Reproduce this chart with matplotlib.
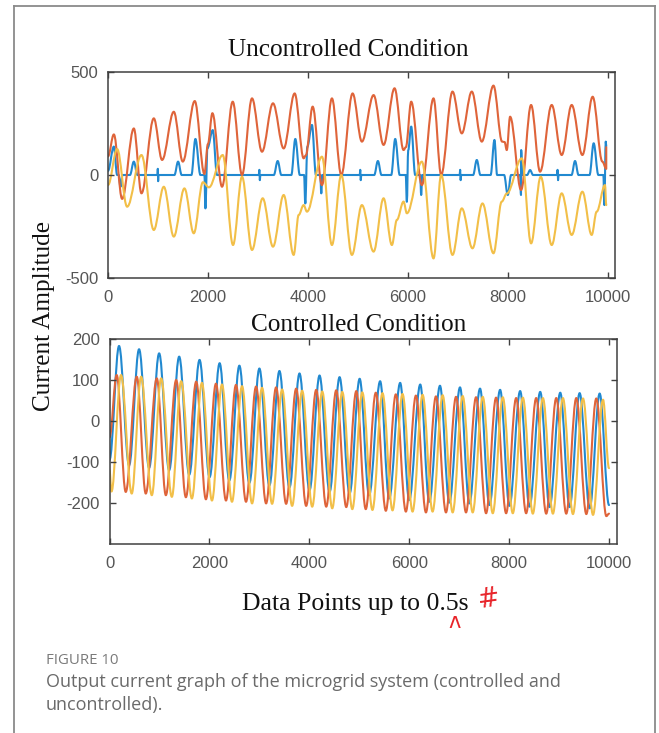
import matplotlib
matplotlib.use("Agg")
import matplotlib.pyplot as plt
from matplotlib.path import Path
from matplotlib.patches import PathPatch
from matplotlib.lines import Line2D

# ---------------- data ----------------
# Uncontrolled condition: turning points (x = data point index, y = current)
unc_blue_x = [0, 117, 183, 215, 250, 290, 440, 517, 590, 990, 997, 1004, 1010,
              1330, 1403, 1475, 1670, 1750, 1850, 1930, 1950, 1990, 2097, 2183,
              3020, 3030, 3040, 3050, 3320, 3397, 3470, 3670, 3750, 3840, 3925,
              3950, 3990, 4083, 4163, 4250, 4270, 4290, 5040, 5050, 5060, 5070,
              5330, 5403, 5475, 5670, 5750, 5840, 5960, 5983, 6010, 6070, 6150,
              6250, 6270, 6290, 7040, 7050, 7060, 7070, 7310, 7383, 7455, 7660,
              7737, 7790, 7930, 8003, 8070, 8250, 8268, 8272, 8290, 8390, 8450,
              8510, 8990, 9000, 9010, 9020, 9280, 9350, 9420, 9640, 9723, 9817,
              9917, 9937, 9965, 9975]
unc_blue_y = [20, 138, 0, 0, -57, 0, 0, 65, 0, 0, 30, -30, 0,
              0, 65, 0, 0, 175, 0, 0, -162, 130, 218, 0,
              0, 25, -25, 0, 0, 68, 0, 0, 175, 0, 0,
              -138, 137, 243, 0, 0, -89, 0, 0, 25, -25, 0,
              0, 68, 0, 0, 175, 0, 0, -130, 120, 235, 0,
              0, -97, 0, 0, 25, -25, 0, 0, 73, 0, 0,
              170, 0, 0, -97, 0, 0, -97, 121, 0, 0, 24,
              0, 0, 25, -25, 0, 0, 68, 0, 0, 154, 0,
              0, -146, 162, 140]

unc_orange_x = [0, 117, 283, 517, 670, 917, 1083, 1317, 1497, 1737, 1930, 2000,
                2090, 2283, 2497, 2683, 2883, 3083, 3303, 3517, 3737, 3917, 3960,
                4097, 4283, 4483, 4670, 4897, 5083, 5317, 5517, 5737, 5917, 5963,
                6070, 6283, 6517, 6670, 6897, 7083, 7283, 7483, 7717, 7890, 7940,
                7983, 8050, 8270, 8470, 8650, 8883, 9083, 9283, 9497, 9703, 9897,
                9975, 9975]
unc_orange_y = [90, 197, -116, 226, -89, 275, 73, 307, 65, 359, 5, 150,
                300, -57, 356, 0, 372, 113, 348, 129, 396, 81, 95,
                332, -49, 372, 0, 396, 162, 388, 146, 421, 121, 135,
                356, -49, 372, 0, 405, 202, 405, 162, 434, 162, 160,
                121, 283, -73, 340, 16, 340, 97, 340, 97, 380, 65,
                30, 135]

unc_yellow_x = [0, 183, 383, 670, 917, 1117, 1317, 1530, 1717, 1900, 2020, 2297,
                2503, 2683, 2883, 3097, 3303, 3517, 3717, 3817, 3917, 3983, 4283,
                4483, 4670, 4883, 5083, 5317, 5517, 5683, 5783, 5917, 5983, 6283,
                6517, 6670, 6897, 7083, 7297, 7497, 7717, 7883, 7983, 8283, 8470,
                8663, 8883, 9083, 9283, 9497, 9683, 9783, 9950, 9975]
unc_yellow_y = [-49, 126, -154, 97, -267, -57, -299, -65, -283, -35, -60, 97,
                -340, -8, -364, -113, -348, -97, -388, -194, -146, -178, 89,
                -340, 0, -388, -146, -372, -113, -340, -218, -129, -186, 65,
                -405, 0, -388, -162, -356, -138, -380, -129, -90, 81, -332,
                -8, -340, -89, -291, -81, -291, -178, -49, -146]

# Controlled condition: start, alternating peaks / troughs, end
ctl_blue_x = [0, 191, 392, 592, 793, 994, 1194, 1395, 1596, 1803, 2004, 2205,
              2399, 2600, 2800, 3001, 3201, 3402, 3603, 3804, 4004, 4205, 4406,
              4606, 4807, 5008, 5197, 5418, 5599, 5819, 6000, 6221, 6401, 6616,
              6803, 7017, 7204, 7418, 7606, 7820, 8007, 8221, 8408, 8623, 8810,
              9024, 9211, 9412, 9613, 9813, 10000]
ctl_blue_y = [-95, 183, -108, 175, -114, 165, -120, 157, -131, 149, -137, 141,
              -145, 135, -151, 128, -157, 122, -162, 116, -169, 111, -173,
              107, -177, 103, -181, 97, -189, 93, -193, 89, -197, 86,
              -199, 82, -201, 79, -205, 76, -207, 73, -209, 71, -210,
              69, -210, 68, -213, 67, -205]

ctl_orange_x = [0, 144, 325, 546, 726, 947, 1128, 1335, 1529, 1736, 1930, 2131,
                2332, 2532, 2733, 2934, 3135, 3335, 3536, 3737, 3937, 4138, 4339,
                4539, 4740, 4941, 5130, 5331, 5532, 5732, 5933, 6134, 6335, 6535,
                6736, 6937, 7137, 7338, 7539, 7739, 7940, 8141, 8341, 8542, 8743,
                8944, 9144, 9345, 9546, 9746, 9947, 10000]
ctl_orange_y = [-40, 112, -173, 108, -177, 104, -181, 100, -186, 96, -191, 91,
                -194, 88, -197, 84, -201, 82, -202, 79, -207, 76, -209,
                75, -210, 73, -215, 69, -219, 65, -221, 62, -223, 60,
                -223, 59, -223, 58, -225, 57, -225, 56, -225, 56, -226,
                56, -226, 56, -227, 55, -232, -226]

ctl_yellow_x = [0, 40, 231, 445, 633, 847, 1034, 1248, 1435, 1649, 1850, 2051,
                2252, 2452, 2653, 2854, 3054, 3255, 3456, 3656, 3857, 4058, 4259,
                4459, 4660, 4861, 5061, 5264, 5465, 5666, 5866, 6067, 6268, 6468,
                6669, 6870, 7070, 7271, 7472, 7673, 7873, 8074, 8275, 8475, 8676,
                8877, 9077, 9278, 9479, 9680, 9880, 10000]
ctl_yellow_y = [-120, -172, 112, -177, 108, -181, 104, -185, 97, -189, 93, -194,
                89, -197, 85, -201, 81, -202, 77, -207, 74, -209, 72,
                -213, 71, -215, 70, -217, 68, -218, 66, -221, 64, -221,
                63, -223, 61, -223, 59, -225, 58, -225, 57, -226, 56,
                -226, 56, -227, 55, -229, 52, -115]

x_ticks = [0, 2000, 4000, 6000, 8000, 10000]
unc_y_ticks = [-500, 0, 500]
ctl_y_ticks = [-200, -100, 0, 100, 200]

title_top = "Uncontrolled Condition"
title_bottom = "Controlled Condition"
y_label = "Current Amplitude"
x_label = "Data Points up to 0.5s"
caption_head = "FIGURE 10"
caption_lines = ["Output current graph of the microgrid system (controlled and",
                 "uncontrolled)."]

C_BLUE = "#2189d0"
C_ORANGE = "#df643a"
C_YELLOW = "#f2bf48"

# ---------------- drawing ----------------
W, H = 659, 733
fig = plt.figure(figsize=(W / 100, H / 100), dpi=100)
fig.patch.set_facecolor("white")


def fx(px):
    return px / W


def fy(py):
    return 1 - py / H


def smooth_curve(ax, xs, ys, color, k=0.36):
    verts = [(xs[0], ys[0])]
    codes = [Path.MOVETO]
    for i in range(1, len(xs)):
        x0, y0, x1, y1 = xs[i - 1], ys[i - 1], xs[i], ys[i]
        dx = x1 - x0
        verts += [(x0 + k * dx, y0), (x1 - k * dx, y1), (x1, y1)]
        codes += [Path.CURVE4] * 3
    patch = PathPatch(Path(verts, codes), fill=False, edgecolor=color,
                      lw=1.5, capstyle="round", joinstyle="round")
    ax.add_patch(patch)


def style_axes(ax, yticks, ylim):
    ax.set_xlim(0, 10150)
    ax.set_ylim(*ylim)
    ax.set_xticks(x_ticks)
    ax.set_xticklabels([str(t) for t in x_ticks])
    ax.set_yticks(yticks)
    ax.set_yticklabels([str(t) for t in yticks])
    ax.tick_params(direction="in", length=4, width=1.0, color="#404040",
                   top=True, right=True, labelsize=12, labelcolor="#555555")
    ax.tick_params(axis="x", pad=9)
    ax.tick_params(axis="y", pad=7)
    for lab in ax.get_xticklabels() + ax.get_yticklabels():
        lab.set_family("Liberation Sans")
    for s in ax.spines.values():
        s.set_color("#404040")
        s.set_linewidth(1.1)


ax1 = fig.add_axes([fx(108), fy(278), fx(615 - 108), (278 - 72) / H])
smooth_curve(ax1, unc_blue_x, unc_blue_y, C_BLUE)
smooth_curve(ax1, unc_orange_x, unc_orange_y, C_ORANGE)
smooth_curve(ax1, unc_yellow_x, unc_yellow_y, C_YELLOW)
style_axes(ax1, unc_y_ticks, (-500, 500))

ax2 = fig.add_axes([fx(109.5), fy(544), fx(616.5 - 109.5), (544 - 339) / H])
smooth_curve(ax2, ctl_blue_x, ctl_blue_y, C_BLUE)
smooth_curve(ax2, ctl_orange_x, ctl_orange_y, C_ORANGE)
smooth_curve(ax2, ctl_yellow_x, ctl_yellow_y, C_YELLOW)
style_axes(ax2, ctl_y_ticks, (-300, 200))

serif = "Liberation Serif"
fig.text(fx(348), fy(50), title_top, ha="center", va="center",
         family=serif, fontsize=18.2, color="#111111")
fig.text(fx(359), fy(325), title_bottom, ha="center", va="center",
         family=serif, fontsize=18.2, color="#111111")
fig.text(fx(44), fy(316), y_label, ha="center", va="center", rotation=90,
         family=serif, fontsize=18.2, color="#111111")
fig.text(fx(355), fy(604), x_label, ha="center", va="center",
         family=serif, fontsize=18.5, color="#111111")

# red hand-written proof marks
fig.text(fx(489), fy(600), "#", ha="center", va="center", color="#e8242a",
         fontsize=19, family="DejaVu Sans", rotation=8)
fig.text(fx(455), fy(622), "ʌ", ha="center", va="center", color="#e8242a",
         fontsize=15, family="DejaVu Sans")

# caption
fig.text(fx(46), fy(660), caption_head, ha="left", va="center",
         family="Open Sans", fontsize=10.8, color="#7a7a7a")
fig.text(fx(46), fy(682), caption_lines[0], ha="left", va="center",
         family="Open Sans", fontsize=13, color="#6a6a6a")
fig.text(fx(46), fy(705), caption_lines[1], ha="left", va="center",
         family="Open Sans", fontsize=13, color="#6a6a6a")

# page frame
for (x0, y0, x1, y1) in [(13.5, 6, 13.5, 733), (13.5, 6, 655, 6), (655, 6, 655, 733)]:
    fig.add_artist(Line2D([fx(x0), fx(x1)], [fy(y0), fy(y1)],
                          transform=fig.transFigure, color="#8a8a8a", lw=1.3))

fig.savefig("out.png", dpi=100, facecolor="white")
